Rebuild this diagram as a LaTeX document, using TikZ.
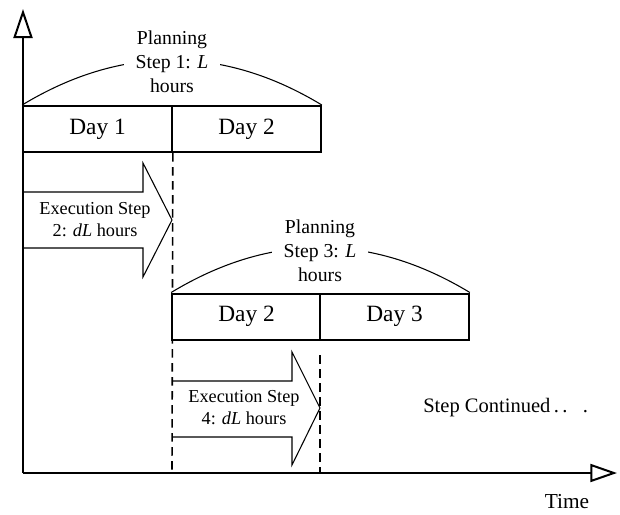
\documentclass[tikz,border=0pt]{standalone}
\usepackage{fontspec}
\setmainfont{Liberation Serif}
\usetikzlibrary{arrows.meta}
\begin{document}
\begin{tikzpicture}[x=0.75pt,y=-0.75pt,
  daybox/.style={draw,fill=white,line width=1.5pt,minimum width=111.5pt,minimum height=34.5pt,inner sep=0pt,font=\fontsize{17.5}{20}\selectfont},
  plantext/.style={fill=white,align=center,inner xsep=9pt,inner ysep=1pt,font=\fontsize{14.8}{18}\selectfont},
  exectext/.style={align=center,inner sep=0pt,font=\fontsize{13.7}{16.5}\selectfont},
  execarrow/.style={draw,line width=0.8pt,line join=miter},
  arcline/.style={line width=0.8pt},
  dashline/.style={line width=1.2pt,dash pattern=on 6.5pt off 4pt},
  axis/.style={line width=1.5pt}]
\useasboundingbox (0,0) rectangle (620,514);
% axes
\coordinate (O) at (23,473);
\coordinate (Ytop) at (23,9);
\coordinate (Xend) at (617,473);
% first planning block
\node[daybox] (d1) at (97.5,129) {Day 1};
\node[daybox] (d2) at (246.5,129) {Day 2};
\draw[arcline] (d1.north west) .. controls +(99,-60) and +(-99,-60) .. (d2.north east);
\node[plantext] (p1) at (172,62) {Planning\\Step 1: \textit{L}\\hours};
% execution arrow 1
\fill[white] (23,192) -- (143,192) -- (143,163) -- (172,220) -- (143,277) -- (143,248) -- (23,248) -- cycle;
\draw[execarrow] (23,192) -- (143,192) -- (143,163) -- (172,220) -- (143,277) -- (143,248) -- (23,248);
\node[exectext] (e1) at (95,220) {Execution Step\\2: \textit{dL} hours};
% execution arrow 2
\fill[white] (172,381) -- (292,381) -- (292,352) -- (320,408) -- (292,465) -- (292,437) -- (172,437) -- cycle;
\draw[execarrow] (172,381) -- (292,381) -- (292,352) -- (320,408) -- (292,465) -- (292,437) -- (172,437);
\node[exectext] (e2) at (244,408) {Execution Step\\4: \textit{dL} hours};
% dashed lines
\coordinate (da) at (172,473);
\draw[dashline] (d1.south east) -- (da);
\coordinate (db1) at (320,355);
\coordinate (db2) at (320,473);
\draw[dashline] (db1) -- (db2);
% second planning block
\node[daybox] (d3) at (246.5,316.5) {Day 2};
\node[daybox] (d4) at (394.5,316.5) {Day 3};
\draw[arcline] (d3.north west) .. controls +(99,-60) and +(-99,-60) .. (d4.north east);
\node[plantext] (p3) at (320,251) {Planning\\Step 3: \textit{L}\\hours};
% axes drawn on top
\draw[axis,-{Triangle[open,length=21.75pt,width=14.25pt,line width=1.5pt]}] (O) -- (Ytop);
\draw[axis,-{Triangle[open,length=20pt,width=13.5pt,line width=1.5pt]}] (O) -- (Xend);
\node[font=\fontsize{16}{19}\selectfont] (time) at (567,502) {Time};
% continued
\node[font=\fontsize{15.4}{18}\selectfont,anchor=west,inner sep=0pt] (cont) at (423,408) {Step Continued\,.\,.\ \ \ .};
\end{tikzpicture}
\end{document}
